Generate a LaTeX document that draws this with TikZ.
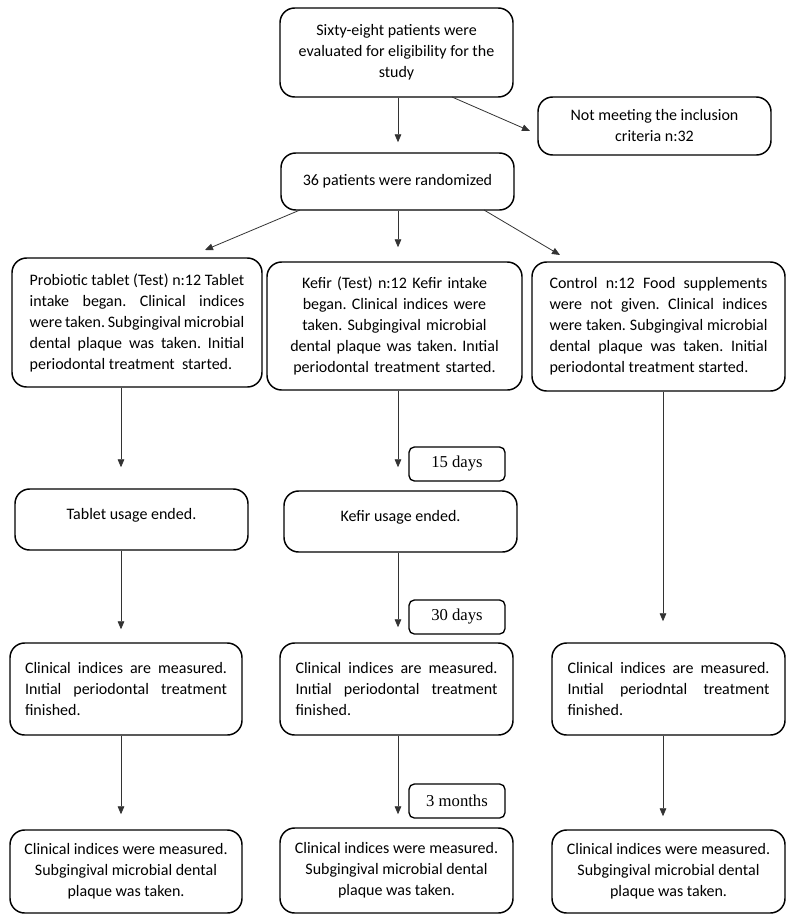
\documentclass[tikz,border=0pt]{standalone}
\usepackage{fontspec}
\setmainfont{Carlito}
\newfontfamily\tnr{Liberation Serif}
\usetikzlibrary{arrows.meta,calc}
\begin{document}
\begin{tikzpicture}[x=0.75pt,y=-0.75pt,
  box/.style={draw=black,line width=1.1pt,rounded corners=11pt,inner sep=2pt,
    font=\fontsize{12}{15.75}\selectfont\frenchspacing},
  daybox/.style={draw=black,line width=1pt,rounded corners=4pt,minimum width=72pt,
    minimum height=25.5pt,inner sep=1pt,font=\tnr\fontsize{12.5}{14}\selectfont},
  arr/.style={draw=black!80,line width=0.6pt,-{Triangle[length=6pt,width=5pt]}}]
\useasboundingbox (0,0) rectangle (793,921);
% top
\node[box,minimum width=174.75pt,minimum height=66.75pt,align=center] (top) at (396.5,52.5)
  {Sixty-eight patients were\\evaluated for eligibility for the\\study};
\node[box,minimum width=174.75pt,minimum height=43.5pt,align=center] (notmeet) at (654.5,126)
  {Not meeting the inclusion\\criteria n:32};
\node[box,minimum width=174.75pt,minimum height=42.75pt,align=center] (random) at (397.5,181.5)
  {36 patients were randomized};
% row 2
\node[box,minimum width=187.5pt,minimum height=96.75pt,text width=161pt,align=justify] (b1) at (137,322.5)
  {Probiotic tablet (Test) n:12 Tablet\linebreak intake began. Clinical indices\linebreak were taken. Subgingival microbial\linebreak dental plaque was taken. Initial\linebreak periodontal treatment\ \ started.};
\node[box,minimum width=191.25pt,minimum height=96pt,text width=166pt,align=center] (b2) at (394.5,326)
  {Kefir (Test) n:12 Kefir intake\\began. Clinical indices were\\taken. Subgingival microbial\\dental plaque was taken. Inıtial\\periodontal treatment started.};
\node[box,minimum width=189.75pt,minimum height=96.75pt,text width=163.5pt,align=justify] (b3) at (658.5,326.5)
  {Control n:12 Food supplements\linebreak were not given. Clinical indices\linebreak were taken. Subgingival microbial\linebreak dental plaque was taken. Initial\linebreak periodontal treatment started.};
% row 3
\node[box,minimum width=174.75pt,minimum height=45.75pt,align=center] (tab) at (131.5,519.5)
  {Tablet usage ended.\\[-8pt]\mbox{}};
\node[box,minimum width=174.75pt,minimum height=45.75pt,align=center] (kef) at (400.5,521.5)
  {Kefir usage ended.\\[-8pt]\mbox{}};
% row 4
\node[box,minimum width=174pt,minimum height=69pt,text width=151.5pt,align=justify] (m1) at (126,689)
  {Clinical indices are measured.\linebreak Inıtial periodontal treatment\linebreak finished.};
\node[box,minimum width=174.75pt,minimum height=69pt,text width=151.5pt,align=justify] (m2) at (396.5,689)
  {Clinical indices are measured.\linebreak Inıtial periodontal treatment\linebreak finished.};
\node[box,minimum width=174.75pt,minimum height=69pt,text width=151.5pt,align=justify] (m3) at (668.5,689)
  {Clinical indices are measured.\linebreak Inıtial periodntal treatment\linebreak finished.};
% row 5
\node[box,minimum width=174pt,minimum height=62.25pt,align=center] (e1) at (126,871.5)
  {Clinical indices were measured.\\Subgingival microbial dental\\plaque was taken.};
\node[box,minimum width=174.75pt,minimum height=63.75pt,align=center] (e2) at (396.5,870.5)
  {Clinical indices were measured.\\Subgingival microbial dental\\plaque was taken.};
\node[box,minimum width=174.75pt,minimum height=62.25pt,align=center] (e3) at (668.5,871.5)
  {Clinical indices were measured.\\Subgingival microbial dental\\plaque was taken.};
% day labels
\node[daybox] (d15) at (457,464) {15 days};
\node[daybox] (d30) at (457,617) {30 days};
\node[daybox] (d3m) at (457,801) {3 months};
% column coordinates
\coordinate (cL) at (121,0);
\coordinate (cM) at (398,0);
\coordinate (cR) at (663,0);
\coordinate (t1) at (452,97);
\coordinate (t2) at (530,131);
\coordinate (r1s) at (300,210);
\coordinate (r1e) at (205,250);
\coordinate (r3s) at (484,210);
\coordinate (r3e) at (560,255);
% connectors
\draw[arr,shorten >=7.5pt] (top.south -| cM) -- (random.north -| cM);
\draw[arr] (t1) -- (t2);
\draw[arr] (r1s) -- (r1e);
\draw[arr,shorten >=10.5pt] (random.south -| cM) -- (b2.north -| cM);
\draw[arr] (r3s) -- (r3e);
\draw[arr,shorten >=15.75pt] (b1.south -| cL) -- (tab.north -| cL);
\draw[arr,shorten >=9.75pt] (tab.south -| cL) -- (m1.north -| cL);
\draw[arr,shorten >=11.25pt] (m1.south -| cL) -- (e1.north -| cL);
\draw[arr,shorten >=17.25pt] (b2.south -| cM) -- (kef.north -| cM);
\draw[arr,shorten >=11.25pt] (kef.south -| cM) -- (m2.north -| cM);
\draw[arr,shorten >=9.75pt] (m2.south -| cM) -- (e2.north -| cM);
\draw[arr,shorten >=15.75pt] (b3.south -| cR) -- (m3.north -| cR);
\draw[arr,shorten >=9.75pt] (m3.south -| cR) -- (e3.north -| cR);
\end{tikzpicture}
\end{document}
